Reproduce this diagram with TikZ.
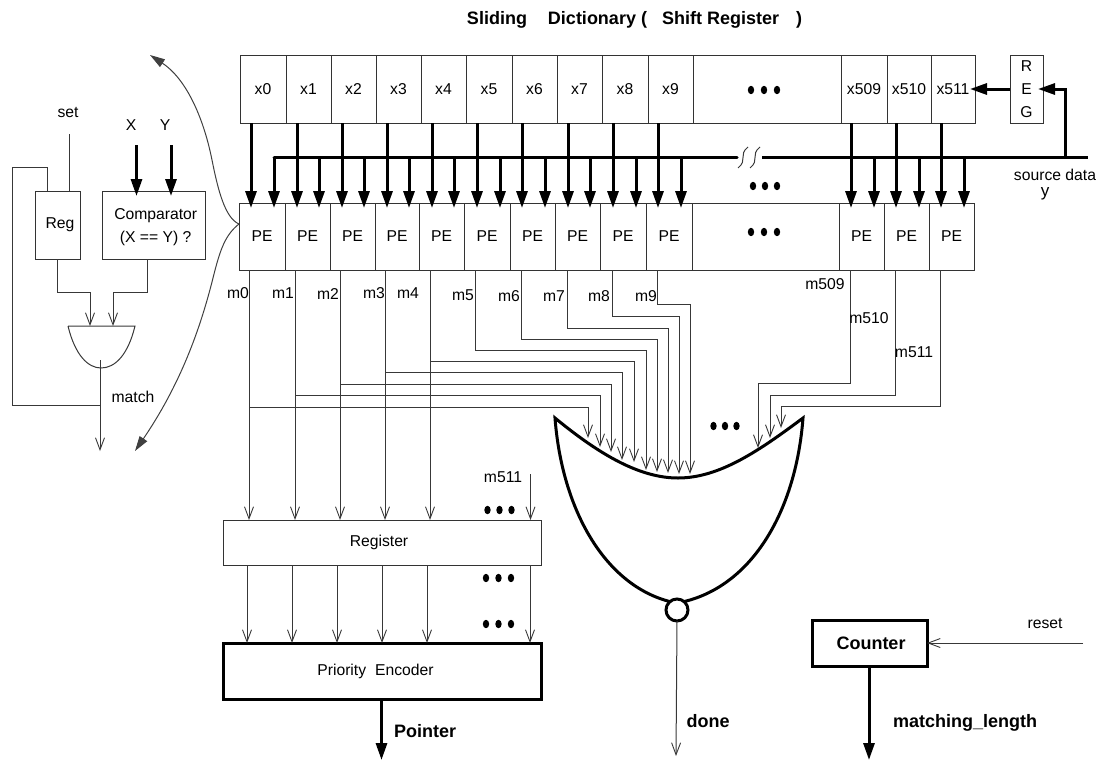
\documentclass[tikz,border=0pt]{standalone}
\usepackage{fontspec}
\setmainfont{Liberation Sans}
\usetikzlibrary{arrows.meta}
\newcommand{\tdots}[3]{%
  \foreach \dd in {-1,0,1} {\fill[black] ({#1+\dd*#3},#2) ellipse [x radius=3.2,y radius=4.2];}}
\tikzset{
  x=1pt,y=-1pt,
  lbl/.style={font=\fontsize{15.7}{18}\selectfont,inner sep=0pt,text=black},
  blbl/.style={font=\fontsize{18}{21}\bfseries\selectfont,inner sep=0pt,text=black},
  cell/.style={draw=black!80,line width=0.9pt,inner sep=0pt,outer sep=0pt,font=\fontsize{15.7}{18}\selectfont},
  thinline/.style={draw=black!78,line width=1pt},
  thinarrow/.style={thinline,-{Straight Barb[length=12pt,width=9pt,line width=0.9pt]}},
  boldarrow/.style={draw=black,line width=3pt,-{Triangle[length=17pt,width=11pt]},shorten >=-5pt},
  boldline/.style={draw=black,line width=3pt},
  curvearrow/.style={draw=black!75,line width=1pt,-{Triangle[length=15pt,width=9pt]}},
  heavybox/.style={draw=black,line width=3pt,inner sep=0pt,outer sep=0pt},
}
\begin{document}
\begin{tikzpicture}
\useasboundingbox (0,0) rectangle (1100,760);
% title
\node[inner sep=0pt,font=\fontsize{18}{21}\bfseries\selectfont] (title) at (634.5,20)
  {Sliding\hspace{21pt}Dictionary (\hspace{15pt}Shift Register\hspace{17pt})};
% shift register cells
\foreach \n/\l/\r/\t in {0/240/286/x0,1/286/331/x1,2/331/376/x2,3/376/421/x3,4/421/466/x4,5/466/512/x5,6/512/557/x6,7/557/602/x7,8/602/648/x8,9/648/693/x9,m/693/841/,a/841/887/x509,b/887/931/x510,c/931/975/x511} {
  \node[cell,minimum width={(\r-\l)*1pt},minimum height=68pt] (x\n) at ({(\l+\r)/2},89) {\raisebox{-2pt}{\t}};
}
\node[cell,minimum width=33pt,minimum height=68pt,align=center] (reg) at (1026.5,89) {R\\[5pt]E\\[5pt]G};
% PE cells
\foreach \n/\l/\r/\t in {0/239/285/PE,1/285/330/PE,2/330/375/PE,3/375/419/PE,4/419/464/PE,5/464/510/PE,6/510/555/PE,7/555/600/PE,8/600/646/PE,9/646/692/PE,m/692/839/,a/839/884/PE,b/884/929/PE,c/929/974/PE} {
  \node[cell,minimum width={(\r-\l)*1pt},minimum height=67pt] (p\n) at ({(\l+\r)/2},236.5) {\raisebox{-2pt}{\t}};
}
\tdots{764}{90}{13}
\tdots{765}{186}{12}
\tdots{764}{232}{13}
% bus
\coordinate (busL) at (274,157);
\coordinate (brkL) at (737,157);
\coordinate (brkR) at (762,157);
\coordinate (busR) at (1088,157);
\coordinate (tap) at (1065,157);
\draw[boldline,line cap=round,line join=round] (busL) -- (brkL);
\draw[boldline] (brkR) -- (busR);
\draw[thinline] (738,168) .. controls (748,160) and (738,155) .. (748,147);
\draw[thinline] (750,168) .. controls (760,160) and (750,155) .. (760,147);
\draw[boldarrow] (tap) |- (reg.east);
\draw[boldarrow] (reg.west) -- (xc.east);
% vertical arrows
\foreach \n/\a/\b in {0/251/274,1/297/319,2/342/364,3/387/409,4/432/454,5/477/500,6/522/545,7/568/590,8/613/636,9/658/681,a/851/874,b/896/919,c/941/964} {
  \coordinate (ca\n) at (\a,157);
  \coordinate (cb\n) at (\b,157);
  \draw[boldarrow] (x\n.south -| ca\n) -- (p\n.north -| ca\n);
  \draw[boldarrow] (cb\n) -- (p\n.north -| cb\n);
}
\node[lbl] (srcd) at (1055,175) {source data};
\node[lbl,font=\fontsize{17}{20}\selectfont] (ysrc) at (1045,194) {y};
% register and encoder
\node[cell,minimum width=318pt,minimum height=45pt] (rg) at (382,542.5) {\hspace*{-6pt}Register};
\node[heavybox,minimum width=318pt,minimum height=56pt,font=\fontsize{15.7}{18}\selectfont] (pe) at (382,671) {\hspace*{-13pt}\raisebox{2pt}{Priority\hspace{9pt}Encoder}};
% m lines into register and branches into NOR
\foreach \n/\mx/\by/\tx/\ty/\ox in {0/249/407/588/438/247,1/295/395/600/447/292,2/340/384/611/452/337,3/385/372/622/460/382,4/430/361/634/462/427} {
  \coordinate (mc\n) at (\mx,300);
  \coordinate (j\n) at (\mx,\by);
  \coordinate (t\n) at (\tx,\ty);
  \coordinate (o\n) at (\ox,600);
  \draw[thinarrow] (p\n.south -| mc\n) -- (rg.north -| mc\n);
  \draw[thinarrow] (j\n) -| (t\n);
  \draw[thinarrow] (rg.south -| o\n) -- (pe.north -| o\n);
}
\foreach \n/\mx/\by/\tx/\ty in {5/475/350/646/470,6/521/339/657/472,7/567/328/668/473,8/612/316/679/474,9/657/304/690/474,a/850/383/758/448,b/895/395/770/438,c/940/406/781/428} {
  \coordinate (j\n) at (\mx,\by);
  \coordinate (t\n) at (\tx,\ty);
  \draw[thinarrow] (p\n.south -| j\n) -- (j\n) -| (t\n);
}
\foreach \t/\x/\y [count=\i] in {m0/238/293,m1/283/293,m2/328/294,m3/374/293,m4/408/293,m5/463/295,m6/509/296,m7/554/296,m8/599/296,m9/646/296,m509/825/284,m510/869/318,m511/914/352} {
  \node[lbl] (ml\i) at (\x,\y) {\t};
}
% m511 into register
\coordinate (m511top) at (530.5,474);
\coordinate (m511bot) at (530,600);
\node[lbl] (ml) at (503,477) {m511};
\draw[thinarrow] (m511top) -- (rg.north -| m511top);
\draw[thinarrow] (rg.south -| m511bot) -- (pe.north -| m511bot);
\tdots{499.5}{510}{12}
\tdots{498.5}{578}{12.5}
\tdots{498.5}{624}{12.5}
% pointer
\coordinate (ptr) at (381.5,755);
\draw[boldarrow] (pe.south -| ptr) -- (ptr);
\node[blbl] (ptrl) at (425,731) {Pointer};
% NOR gate
\coordinate (nl) at (555,418);
\coordinate (nr) at (803,418);
\node[circle,draw=black,line width=3pt,minimum size=22pt,inner sep=0pt,outer sep=0pt] (bub) at (677,610) {};
\draw[draw=black,line width=3pt,line join=miter] (bub.130) .. controls (605,585) and (562,510) .. (nl)
  .. controls (600,455) and (640,478) .. (678,478)
  .. controls (720,478) and (760,450) .. (nr)
  .. controls (796,510) and (753,585) .. (bub.50);
\tdots{725}{426}{11.5}
\coordinate (dn) at (676,756);
\draw[thinarrow] (bub.south) -- (dn);
\node[blbl] (dnl) at (708,721) {done};
% counter
\node[heavybox,minimum width=115pt,minimum height=46pt,font=\fontsize{18}{21}\bfseries\selectfont] (cnt) at (869.5,643) {\hspace*{3pt}Counter};
\coordinate (rs) at (1083,643);
\draw[thinarrow] (rs) -- (cnt.east);
\node[lbl] (rsl) at (1045,623) {reset};
\coordinate (ml2) at (869,755);
\draw[boldarrow] (cnt.south -| ml2) -- (ml2);
\node[blbl] (mll) at (965,723) {matching\_length};
% left detail
\node[cell,minimum width=45pt,minimum height=68pt] (lreg) at (57.5,225) {\hspace*{5pt}\raisebox{-3pt}{Reg}};
\node[cell,minimum width=103pt,minimum height=68pt] (cmp) at (153.5,225) {};
\node[lbl,align=center] (cmpt) at (155.7,227) {Comparator\\[5pt](X == Y) ?};
\node[lbl] (setl) at (68,113) {set};
\coordinate (sett) at (69.5,134);
\draw[thinline] (sett) -- (lreg.north -| sett);
\node[lbl] (xl) at (131,125) {X};
\node[lbl] (yl) at (165,125) {Y};
\coordinate (xt) at (136.5,145);
\coordinate (yt) at (171,145);
\draw[boldarrow] (xt) -- (cmp.north -| xt);
\draw[boldarrow] (yt) -- (cmp.north -| yt);
% AND gate
\coordinate (al) at (68,326);
\coordinate (ar) at (135,326);
\coordinate (ab) at (101,368);
\draw[thinline] (al) -- (ar) .. controls (128,355) and (115,368) .. (ab) .. controls (88,368) and (75,355) .. (al);
\coordinate (g1) at (90,326);
\coordinate (g2) at (113,326);
\coordinate (c1) at (57,292);
\coordinate (c2) at (147,292);
\draw[thinarrow] (lreg.south -| c1) -- (c1) -| (g1);
\draw[thinarrow] (cmp.south -| c2) -- (c2) -| (g2);
\coordinate (mi) at (100,360);
\coordinate (mo) at (100,451);
\draw[thinarrow] (mi) -- (mo);
\node[lbl] (mt) at (133,397) {match};
\coordinate (fb1) at (47,167);
\coordinate (fb2) at (12.5,405);
\coordinate (fbj) at (100,405);
\draw[thinline] (lreg.north -| fb1) -- (fb1) -| (fb2) -- (fbj);
% zoom curves
\coordinate (apex) at (239,224);
\coordinate (ct) at (150,55);
\coordinate (cbm) at (135,451);
\draw[curvearrow] (apex) .. controls (225,218) and (218,190) .. (212,160) .. controls (203,115) and (185,78) .. (ct);
\draw[curvearrow] (apex) .. controls (225,235) and (220,250) .. (213,278) .. controls (200,330) and (180,385) .. (cbm);
\end{tikzpicture}
\end{document}
